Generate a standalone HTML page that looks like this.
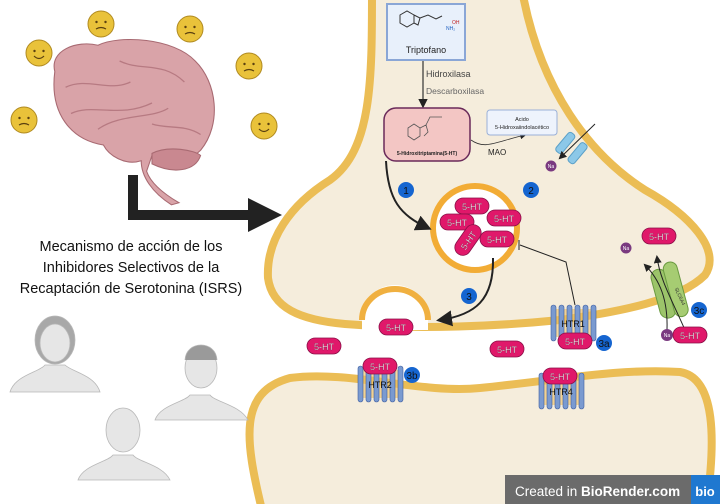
<!DOCTYPE html>
<html><head><meta charset="utf-8"><style>
html,body{margin:0;padding:0;background:#fff;}
svg{display:block;font-family:"Liberation Sans",sans-serif;}
</style></head><body>
<svg width="720" height="504" viewBox="0 0 720 504">
<defs>
<marker id="ah" markerWidth="8" markerHeight="8" refX="6" refY="4" orient="auto"><path d="M0,0 L8,4 L0,8 z" fill="#222"/></marker>
<g id="ht"><rect x="-17" y="-8" width="34" height="16" rx="8" fill="#e0186a" stroke="#8a1048" stroke-width="0.8"/><text x="0" y="4" text-anchor="middle" font-size="9" fill="#fff" stroke="#3a0a20" stroke-width="0.2">5-HT</text></g>
<g id="rec"><rect x="-22" y="-14" width="44" height="28" fill="#f0c060" opacity="0.6"/><g fill="#7a9ad0" stroke="#3e5ea0" stroke-width="0.6"><rect x="-22" y="-18" width="5" height="36" rx="2.5"/><rect x="-14" y="-18" width="5" height="36" rx="2.5"/><rect x="-6" y="-18" width="5" height="36" rx="2.5"/><rect x="2" y="-18" width="5" height="36" rx="2.5"/><rect x="10" y="-18" width="5" height="36" rx="2.5"/><rect x="18" y="-18" width="5" height="36" rx="2.5"/></g></g>
<g id="emo"><circle r="13" fill="#e9c23a" stroke="#b08a20" stroke-width="1"/><circle cx="-4.5" cy="-2" r="1.2" fill="#5a4010"/><circle cx="4.5" cy="-2" r="1.2" fill="#5a4010"/><path d="M-5,5 Q0,2 5,5" fill="none" stroke="#5a4010" stroke-width="1.2"/></g>
<g id="emoh"><circle r="13" fill="#e9c23a" stroke="#b08a20" stroke-width="1"/><circle cx="-4.5" cy="-2" r="1.2" fill="#5a4010"/><circle cx="4.5" cy="-2" r="1.2" fill="#5a4010"/><path d="M-5,3 Q0,8 5,3" fill="none" stroke="#5a4010" stroke-width="1.2"/></g>
</defs>

<path d="M262,510 C245,440 238,392 290,378 C350,370 420,394 480,388 C560,380 620,368 680,372 C716,378 716,440 706,510 Z" fill="#f5eddc" stroke="#ebbd55" stroke-width="8"/>
<path d="M372,-10 C372,80 372,150 330,180 C290,205 266,240 268,278 C272,308 300,320 345,324 C420,330 500,326 560,320 C620,312 680,300 705,275 C722,250 690,215 645,190 C590,155 540,90 522,-10 Z" fill="#f5eddc" stroke="#ebbd55" stroke-width="8"/>
<g>
<path d="M362,330 L362,318 A33,33 0 0 1 428,318 L428,330 Z" fill="#fff"/>
<path d="M362,320 A33,31 0 0 1 428,320" fill="none" stroke="#f0b040" stroke-width="6"/>
</g>
<circle cx="475" cy="228" r="42" fill="#fff" stroke="#f2ac35" stroke-width="6"/>
<use href="#ht" x="472" y="206"/><use href="#ht" x="457" y="222"/><use href="#ht" x="504" y="218"/><use href="#ht" x="497" y="239"/>
<g transform="translate(468,240) rotate(-55)"><use href="#ht"/></g>

<g>
<rect x="387" y="4" width="78" height="56" fill="#e8f0fb" stroke="#8aa6d6" stroke-width="2"/>
<path d="M400,15 l7,-4 7,4 0,8 -7,4 -7,-4z M414,15 l6,3 -2,7 -4,-2 M420,18 l8,-3 8,4 6,-3" fill="none" stroke="#333" stroke-width="1"/>
<text x="446" y="30" font-size="5" fill="#2060c0">NH₂</text><text x="452" y="24" font-size="5" fill="#c02020">OH</text>
<text x="426" y="53" font-size="9" text-anchor="middle" fill="#222">Triptofano</text>
</g>
<line x1="423" y1="61" x2="423" y2="106" stroke="#333" stroke-width="1.2" marker-end="url(#ah)"/>
<text x="426" y="77" font-size="9" fill="#444">Hidroxilasa</text>
<text x="426" y="94" font-size="8.5" fill="#666">Descarboxilasa</text>

<g>
<rect x="384" y="108" width="86" height="53" rx="12" fill="#f3c6c4" stroke="#6a2a5a" stroke-width="1.5"/>
<path d="M408,128 l6,-4 6,4 0,8 -6,4 -6,-4z M420,128 l6,-3 2,7 -4,4 M426,125 l4,-8 12,0" fill="none" stroke="#555" stroke-width="0.8"/>
<text x="427" y="155" font-size="5" text-anchor="middle" fill="#222" font-weight="bold">5-Hidroxitriptamina(5-HT)</text>
</g>
<path d="M471,140 C485,150 495,142 525,135" fill="none" stroke="#333" stroke-width="0.8" marker-end="url(#ah)"/>
<text x="488" y="155" font-size="8" fill="#222">MAO</text>
<g>
<rect x="487" y="110" width="70" height="25" rx="3" fill="#eef3fc" stroke="#9ab0d8" stroke-width="1"/>
<text x="522" y="121" font-size="5.5" text-anchor="middle" fill="#222">Acido</text>
<text x="522" y="129" font-size="5.5" text-anchor="middle" fill="#222">5-Hidroxaiindolacético</text>
</g>
<g transform="translate(574,145) rotate(40)">
<rect x="-12" y="-8" width="8" height="24" rx="3" fill="#8cc8e8" stroke="#5aa0c8"/>
<rect x="4" y="-8" width="8" height="24" rx="3" fill="#8cc8e8" stroke="#5aa0c8"/>
</g>
<line x1="595" y1="124" x2="560" y2="158" stroke="#222" stroke-width="1" marker-end="url(#ah)"/>
<circle cx="551" cy="166" r="5.5" fill="#7a3a80"/><text x="551" y="168" font-size="5" text-anchor="middle" fill="#fff">Na</text>

<path d="M386,161 C388,200 400,215 428,228" fill="none" stroke="#222" stroke-width="2" marker-end="url(#ah)"/>
<path d="M493,258 C494,300 475,315 440,320" fill="none" stroke="#222" stroke-width="2" marker-end="url(#ah)"/>
<path d="M575,305 L566,262 L520,245" fill="none" stroke="#222" stroke-width="1"/>
<line x1="519" y1="240" x2="519" y2="250" stroke="#222" stroke-width="1"/>
<g font-size="10" text-anchor="middle" fill="#111">
<circle cx="406" cy="190" r="8" fill="#1565d0"/><text x="406" y="194">1</text>
<circle cx="531" cy="190" r="8" fill="#1565d0"/><text x="531" y="194">2</text>
<circle cx="469" cy="296" r="8" fill="#1565d0"/><text x="469" y="300">3</text>
<circle cx="604" cy="343" r="8" fill="#1565d0"/><text x="604" y="347">3a</text>
<circle cx="412" cy="375" r="8" fill="#1565d0"/><text x="412" y="379">3b</text>
<circle cx="699" cy="310" r="8" fill="#1565d0"/><text x="699" y="314">3c</text>
</g>

<use href="#ht" x="396" y="327"/><use href="#ht" x="324" y="346"/><use href="#ht" x="507" y="349"/>
<use href="#ht" x="659" y="236"/>
<circle cx="626" cy="248" r="5.5" fill="#7a3a80"/><text x="626" y="250" font-size="5" text-anchor="middle" fill="#fff">Na</text>

<g transform="translate(573,323)"><use href="#rec"/><text x="0" y="4" font-size="9" text-anchor="middle" fill="#111">HTR1</text></g>
<use href="#ht" x="575" y="341"/>
<g transform="translate(380,384)"><use href="#rec"/><text x="0" y="4" font-size="9" text-anchor="middle" fill="#111">HTR2</text></g>
<use href="#ht" x="380" y="366"/>
<g transform="translate(561,391)"><use href="#rec"/><text x="0" y="4" font-size="9" text-anchor="middle" fill="#111">HTR4</text></g>
<use href="#ht" x="560" y="376"/>
<g transform="translate(670,295) rotate(-15)">
<rect x="-14" y="-28" width="16" height="50" rx="8" fill="#9cc46a" stroke="#6a9a40"/>
<rect x="0" y="-32" width="14" height="56" rx="7" fill="#a6cc72" stroke="#6a9a40"/>
<text x="6" y="-5" font-size="5" fill="#333" transform="rotate(80 6 -5)">SLC6A4</text>
</g>
<path d="M667,330 C668,300 660,280 645,265" fill="none" stroke="#222" stroke-width="1" marker-end="url(#ah)"/>
<path d="M685,330 C672,300 660,280 657,257" fill="none" stroke="#222" stroke-width="1" marker-end="url(#ah)"/>
<circle cx="667" cy="335" r="6" fill="#7a3a80"/><text x="667" y="337" font-size="5" text-anchor="middle" fill="#fff">Na</text>
<use href="#ht" x="690" y="335"/>

<g transform="translate(-10,-2) scale(1.08 1.05)">
<path d="M60,70 C55,50 80,40 100,45 C120,35 170,38 190,60 C210,80 215,120 195,145 C180,160 160,155 150,150 L145,165 C150,180 170,192 175,195 L168,197 C150,185 140,170 140,155 C125,160 110,150 105,140 C75,135 55,110 60,70Z" fill="#d9a3a8" stroke="#a86a72" stroke-width="1"/>
<path d="M70,85 C90,75 110,90 130,80 M75,110 C95,100 120,115 150,100 M120,60 C140,70 160,60 180,80 M150,120 C165,125 180,120 195,130 M100,125 C120,110 150,115 165,105" fill="none" stroke="#b77a82" stroke-width="1.2"/>
<path d="M150,148 C165,140 190,145 195,150 C190,165 170,168 150,158Z" fill="#c98890" stroke="#a86a72"/>
</g>
<g>
<use href="#emoh" x="39" y="53"/><use href="#emo" x="101" y="24"/><use href="#emo" x="190" y="29"/><use href="#emo" x="249" y="66"/><use href="#emo" x="24" y="120"/><use href="#emoh" x="264" y="126"/>
</g>
<path d="M133,175 L133,215 L250,215" fill="none" stroke="#222" stroke-width="10"/>
<path d="M248,198 L282,215 L248,232Z" fill="#222"/>
<g font-size="14.5" text-anchor="middle" fill="#111">
<text x="131" y="251">Mecanismo de acción de los</text>
<text x="131" y="272">Inhibidores Selectivos de la</text>
<text x="131" y="293">Recaptación de Serotonina (ISRS)</text>
</g>
<g fill="#e6e6e6" stroke="#b8b8b8" stroke-width="0.8">
<path d="M10,392 C15,375 40,372 45,365 L65,365 C72,372 95,375 100,392Z"/>
<ellipse cx="55" cy="340" rx="20" ry="24" fill="#a8a8a8"/><ellipse cx="55" cy="343" rx="15" ry="19"/>
<path d="M155,420 C160,405 185,402 190,395 L210,395 C215,402 240,405 248,420Z"/>
<ellipse cx="201" cy="368" rx="16" ry="20"/><path d="M185,360 C186,340 216,340 217,360" fill="#9a9a9a"/>
<path d="M78,480 C83,465 108,462 113,455 L133,455 C138,462 163,465 170,480Z"/>
<ellipse cx="123" cy="430" rx="17" ry="22"/>
</g>
<g>
<rect x="505" y="475" width="215" height="29" fill="#6b6b6b"/>
<rect x="691" y="475" width="29" height="29" fill="#1f78d0"/>
<text x="515" y="496" font-size="13.5" fill="#fff">Created in <tspan font-weight="bold">BioRender.com</tspan></text>
<text x="705" y="496" font-size="13" font-weight="bold" text-anchor="middle" fill="#fff">bio</text>
</g>
</svg>
</body></html>
